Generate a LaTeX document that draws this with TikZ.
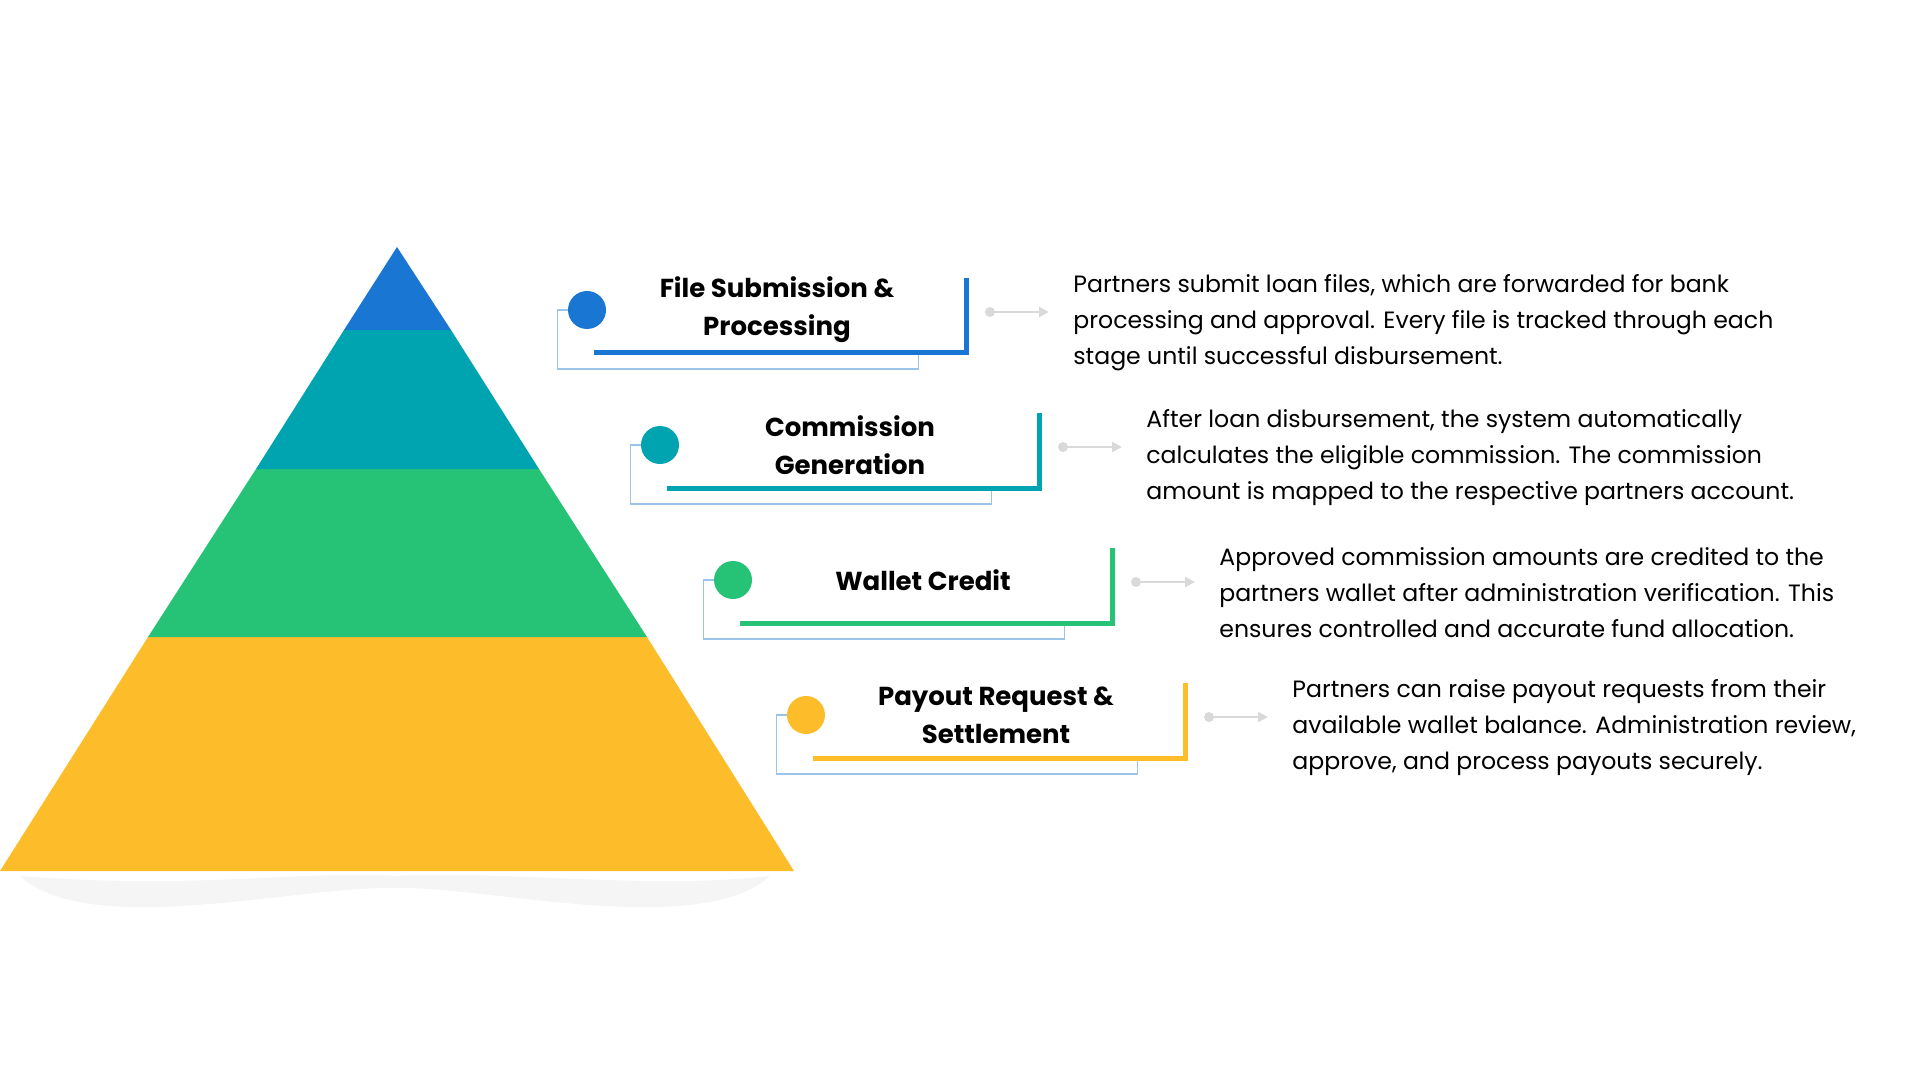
\documentclass[tikz,border=0pt]{standalone}
\usepackage{fontspec}
\setmainfont{Poppins}
\usetikzlibrary{positioning}
\usetikzlibrary{arrows.meta}
\usetikzlibrary{calc}
\definecolor{tierA}{HTML}{1976D2}
\definecolor{tierB}{HTML}{00A3B0}
\definecolor{tierC}{HTML}{26C276}
\definecolor{tierD}{HTML}{FDBD2A}
\definecolor{thinline}{HTML}{9CC3EA}
\tikzstyle{dot}=[circle, minimum size=19pt, inner sep=0pt]
\tikzstyle{title}=[font=\fontsize{13}{19}\selectfont\bfseries, align=center]
\tikzstyle{desc}=[font=\fontsize{11.8}{18}\selectfont, align=left, anchor=west, inner sep=0pt]

\begin{document}
\begin{tikzpicture}[x=0.5pt,y=-0.5pt]
	\useasboundingbox (0,0) rectangle (1920,1080);
	% shadow
	\fill[black!4] (20,876) .. controls (200,890) and (300,870) .. (397,876) .. controls (500,870) and (650,890) .. (770,876) .. controls (700,940) and (480,885) .. (397,888) .. controls (300,885) and (90,940) .. (20,876);
	% pyramid
	\fill[tierD] (0,871) -- (794,871) -- (647,637) -- (148,637) -- cycle;
	\fill[tierC] (148,637) -- (647,637) -- (539,469) -- (256,469) -- cycle;
	\fill[tierB] (256,469) -- (539,469) -- (451,330) -- (344,330) -- cycle;
	\fill[tierA] (344,330) -- (451,330) -- (397,247) -- cycle;
	% rows
	\foreach \i/\col/\name/\txt in {
		0/tierA/{File Submission \&\\Processing}/{Partners submit loan files, which are forwarded for bank\\processing and approval. Every file is tracked through each\\stage until successful disbursement.},
		1/tierB/{Commission\\Generation}/{After loan disbursement, the system automatically\\calculates the eligible commission. The commission\\amount is mapped to the respective partners account.},
		2/tierC/{Wallet Credit}/{Approved commission amounts are credited to the\\partners wallet after administration verification. This\\ensures controlled and accurate fund allocation.},
		3/tierD/{Payout Request \&\\Settlement}/{Partners can raise payout requests from their\\available wallet balance. Administration review,\\approve, and process payouts securely.}}{
		\pgfmathsetmacro{\cx}{587+73*\i}
		\pgfmathsetmacro{\cy}{310+135*\i}
		\node[dot, fill=\col] (dot\i) at (\cx,\cy) {};
		\node[title] (title\i) at (\cx+190,\cy) {\name};
		\draw[thinline, line width=0.6pt] (dot\i.west) -- ++(-10,0) -- ++(0,59) -- ++(361,0) -- ++(0,-16);
		\draw[\col, line width=2.5pt] (\cx+7,\cy+43) -- (\cx+379,\cy+43) -- (\cx+379,\cy-32);
		\coordinate (from\i) at (\cx+403,\cy+2);
		\node[desc] (desc\i) at (\cx+486,\cy+13) {\txt};
		\fill[black!15] (from\i) circle (5);
		\draw[black!15, line width=1.2pt, -{Triangle[length=5pt,width=5pt]}] (from\i) -- ++(59,0);
	}
\end{tikzpicture}
\end{document}
